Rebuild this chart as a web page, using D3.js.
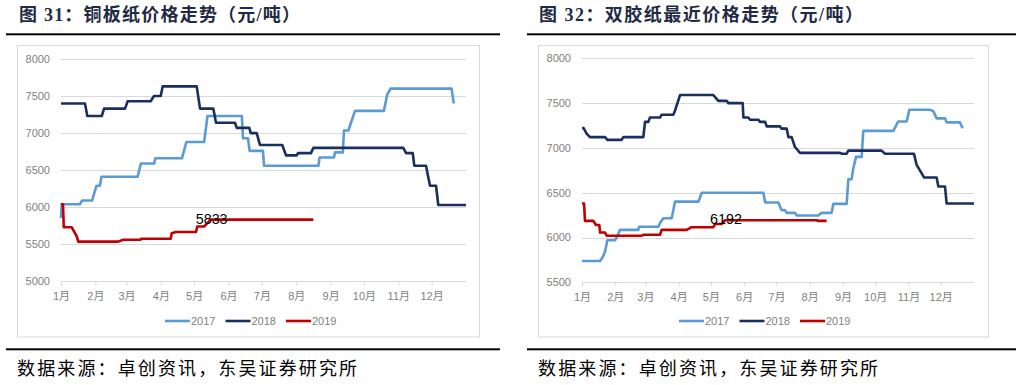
<!DOCTYPE html>
<html><head><meta charset="utf-8">
<script src="https://cdn.jsdelivr.net/npm/d3@7"></script>
<style>
html,body{margin:0;padding:0;background:#fff;}
svg{display:block;}
</style></head>
<body>
<svg id="c" width="1022" height="385"></svg>
<script>
// ---------- data ----------
const months = ["1月","2月","3月","4月","5月","6月","7月","8月","9月","10月","11月","12月"];
const seriesNames = ["2017","2018","2019"];
const titleA = "图 31：铜板纸价格走势（元/吨）";
const titleB = "图 32：双胶纸最近价格走势（元/吨）";
const sourceText = "数据来源：卓创资讯，东吴证券研究所";
const yTicksA = [5000,5500,6000,6500,7000,7500,8000];
const yTicksB = [5500,6000,6500,7000,7500,8000];

// [day of year, price]
const coated2017 = [[0,5855],[0.6,6040],[17,6040],[19,6090],[28,6090],[32,6290],[35,6290],[36.5,6410],[69,6410],[72,6590],[84,6590],[85,6660],[109,6660],[113,6880],[129,6880],[132,7230],[163,7230],[164,6930],[168.5,6930],[170,6760],[182,6760],[183,6560],[232,6560],[233,6670],[246,6670],[247,6740],[254,6740],[255,7035],[259,7035],[262,7170],[265,7300],[291,7300],[294,7520],[297,7600],[352,7600],[354,7400]];
const coated2018 = [[0,7400],[21.6,7400],[23.7,7230],[36.7,7230],[38.8,7330],[57.7,7330],[60.1,7430],[80.8,7430],[83.8,7500],[89.9,7500],[91.6,7630],[122.3,7630],[125.3,7330],[137.3,7330],[139.7,7140],[156.8,7140],[158.4,7070],[169.7,7070],[171,7000],[176.4,7000],[179.3,6840],[199.4,6840],[202.8,6700],[212.4,6700],[213.6,6730],[225.3,6730],[227.4,6800],[308.5,6800],[311,6730],[317,6730],[318.4,6560],[329,6560],[330.5,6440],[332.6,6290],[338,6290],[340,6030],[365,6030]];
const coated2019 = [[0,6040],[1.8,6040],[2.5,5730],[9.6,5730],[14.1,5610],[15.6,5535],[51.6,5535],[56,5560],[71.2,5560],[72.7,5575],[98.9,5575],[99.8,5650],[103.6,5665],[121.7,5665],[122.8,5740],[128.9,5740],[131.3,5775],[134.9,5833],[227.4,5833]];

const offset2017 = [[0,5738],[16.8,5738],[19.2,5780],[21.4,5840],[23.6,5970],[30.7,5970],[32.3,6000],[35.4,6085],[52.4,6085],[53.1,6120],[71.1,6120],[73,6170],[75.8,6215],[83.5,6215],[86.6,6400],[108.4,6400],[111.5,6500],[168.9,6500],[170.5,6390],[182.8,6390],[185.9,6305],[189,6305],[190.6,6275],[198.3,6275],[199.9,6245],[220,6245],[223.1,6275],[232.4,6275],[234,6375],[246.4,6375],[248,6650],[251,6650],[252.6,6770],[255.1,6900],[260.4,6900],[261.9,7190],[289.9,7190],[294.5,7295],[302.3,7295],[304.8,7425],[324,7425],[327.1,7410],[330.2,7330],[338,7330],[339.5,7285],[351.9,7285],[354.4,7220]];
const offset2018 = [[0,7222],[1.5,7222],[4.3,7160],[7.4,7120],[21.4,7120],[23.6,7090],[36.9,7090],[38.5,7120],[57.1,7120],[58.7,7290],[61.8,7290],[63.3,7340],[72.6,7340],[74.2,7370],[85,7370],[86.6,7415],[91.3,7590],[122.3,7590],[127,7525],[134.7,7525],[136.3,7500],[149.6,7500],[150.3,7340],[154.9,7340],[156.5,7315],[164.3,7315],[165.8,7290],[170.5,7290],[172,7240],[184.4,7240],[185.9,7215],[190.6,7215],[192.2,7120],[195.2,7120],[198.3,7010],[203,6945],[240.2,6945],[242,6935],[246.4,6935],[248,6970],[279,6970],[282.1,6935],[309.1,6935],[311.6,6810],[316.3,6715],[318.4,6670],[330.2,6670],[331.8,6570],[338,6570],[339.5,6380],[365,6380]];
const offset2019 = [[0,6380],[1.9,6380],[2.8,6185],[10.6,6185],[13,6140],[16.1,6140],[16.8,6055],[21.4,6055],[23,6020],[55.6,6020],[57.1,6030],[72.6,6030],[74.2,6085],[97.5,6085],[102.1,6115],[122.3,6115],[123.8,6150],[130,6150],[133.1,6192],[218.5,6192],[220,6185],[227.8,6185]];

const labelA = 5833;
const labelB = 6192;

// ---------- drawing ----------
const colors = ["#5b9bd5","#1a2f5e","#c00000"];
const svg = d3.select("#c");
const gray = "#7f7f7f";
const grid = "#d9d9d9";
const sans = "'Liberation Sans', Arial, 'Noto Sans CJK SC', sans-serif";
const cjk = "'Noto Sans CJK SC', sans-serif";

function drawPanel(cfg) {
  const g = svg.append("g");
  // title
  g.append("text").attr("x", cfg.titleX).attr("y", 21)
    .attr("font-family", "'Liberation Serif', 'Noto Sans CJK SC', serif")
    .attr("font-weight", 700).attr("font-size", 18).attr("fill", "#1f2a44")
    .attr("textLength", cfg.titleLen).attr("lengthAdjust", "spacing")
    .text(cfg.title);
  g.append("rect").attr("x", cfg.ruleX0).attr("y", 33.3).attr("width", cfg.ruleX1 - cfg.ruleX0).attr("height", 2).attr("fill", "#000");
  g.append("rect").attr("x", cfg.ruleX0).attr("y", 348.3).attr("width", cfg.ruleX1 - cfg.ruleX0).attr("height", 2).attr("fill", "#000");
  // source
  g.append("text").attr("x", cfg.boxX0).attr("y", 375)
    .attr("font-family", cjk).attr("font-size", 18).attr("fill", "#000")
    .attr("textLength", 340).attr("lengthAdjust", "spacing")
    .text(sourceText);
  // box
  g.append("rect").attr("x", cfg.boxX0 + 0.5).attr("y", 45.5)
    .attr("width", cfg.boxX1 - cfg.boxX0).attr("height", 291.5)
    .attr("fill", "#fff").attr("stroke", grid).attr("stroke-width", 1);

  const t0 = Date.UTC(2019,0,1);
  const toDate = d => new Date(t0 + d * 864e5);
  const x = d3.scaleUtc().domain([toDate(0), toDate(365)]).range([cfg.left, cfg.right]);
  const y = d3.scaleLinear().domain(cfg.yDomain).range([cfg.bottom, cfg.top]);

  // gridlines
  g.append("g").selectAll("line").data(cfg.yTicks.slice(1)).join("line")
    .attr("x1", cfg.left).attr("x2", cfg.right)
    .attr("y1", d => Math.round(y(d)) + 0.5).attr("y2", d => Math.round(y(d)) + 0.5)
    .attr("stroke", grid).attr("stroke-width", 1);
  // y labels
  g.append("g").selectAll("text").data(cfg.yTicks).join("text")
    .attr("x", cfg.left - 11).attr("y", d => y(d)).attr("dy", "0.35em")
    .attr("text-anchor", "end").attr("font-family", sans).attr("font-size", 11)
    .attr("fill", gray).text(d => d);

  // x axis
  const monthStarts = d3.range(12).map(m => new Date(Date.UTC(2019, m, 1)));
  const ax = g.append("g").attr("transform", `translate(0,${Math.round(cfg.bottom) + 0.5})`)
    .call(d3.axisBottom(x).tickValues(monthStarts).tickFormat((d, i) => months[i])
      .tickSize(4).tickSizeOuter(0).tickPadding(7));
  ax.select(".domain").attr("stroke", grid).attr("d", `M${cfg.left},0H${cfg.right}`);
  ax.selectAll(".tick line").attr("stroke", grid);
  ax.selectAll(".tick text").attr("fill", gray).attr("font-size", 11)
    .attr("font-family", "'Liberation Sans', Arial, 'Noto Sans CJK SC', sans-serif");

  // lines
  const line = d3.line().x(d => x(toDate(d[0]))).y(d => y(d[1]));
  cfg.series.forEach((s, i) => {
    g.append("path").datum(s).attr("d", line).attr("fill", "none")
      .attr("stroke", colors[i]).attr("stroke-width", 2.6)
      .attr("stroke-linejoin", "round");
  });

  // data label on 2019 series
  const s19 = cfg.series[2];
  const firstFinal = s19.find(d => d[1] === cfg.label);
  g.append("text").attr("x", x(toDate(firstFinal[0])) + 1).attr("y", y(cfg.label) - 1)
    .attr("dy", "0.35em").attr("text-anchor", "middle")
    .attr("font-family", sans).attr("font-size", 14.3).attr("fill", "#000")
    .text(cfg.label);

  // legend
  seriesNames.forEach((n, i) => {
    const lx = cfg.legendX + i * 60.5;
    g.append("line").attr("x1", lx).attr("x2", lx + 25).attr("y1", 321).attr("y2", 321)
      .attr("stroke", colors[i]).attr("stroke-width", 2.6);
    g.append("text").attr("x", lx + 26).attr("y", 321).attr("dy", "0.35em")
      .attr("font-family", sans).attr("font-size", 11).attr("fill", gray).text(n);
  });
}

drawPanel({
  title: titleA, titleX: 19, titleLen: 281, ruleX0: 6, ruleX1: 500,
  boxX0: 17, boxX1: 479, left: 61, right: 466, top: 59, bottom: 281.3,
  yDomain: [5000, 8000], yTicks: yTicksA,
  series: [coated2017, coated2018, coated2019], label: labelA, legendX: 165
});
drawPanel({
  title: titleB, titleX: 539, titleLen: 324, ruleX0: 527, ruleX1: 1016,
  boxX0: 538, boxX1: 988, left: 582, right: 974, top: 58.3, bottom: 282.3,
  yDomain: [5500, 8000], yTicks: yTicksB,
  series: [offset2017, offset2018, offset2019], label: labelB, legendX: 679
});
</script>
</body></html>
